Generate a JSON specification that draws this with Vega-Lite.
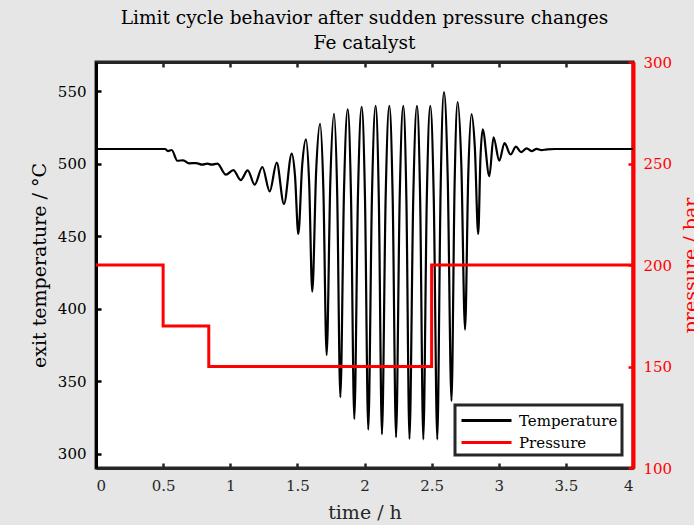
{
  "$schema": "https://vega.github.io/schema/vega-lite/v6.json",
  "width": 537,
  "height": 406,
  "autosize": {"type": "none"},
  "padding": {"left": 96, "top": 62, "right": 61, "bottom": 57},
  "background": "#e6e6e6",
  "config": {
    "font": "DejaVu Serif",
    "view": {"fill": "white", "stroke": "#262626", "strokeWidth": 3},
    "axis": {
      "grid": false,
      "tickSize": -5,
      "tickWidth": 2.5,
      "domainWidth": 3,
      "labelFontSize": 15,
      "titleFontSize": 19,
      "titleFontWeight": "normal",
      "labelPadding": 15,
      "labelFont": "DejaVu Serif",
      "titleFont": "DejaVu Serif"
    }
  },
  "title": {
    "text": ["Limit cycle behavior after sudden pressure changes", "Fe catalyst"],
    "fontSize": 18.5,
    "fontWeight": "normal",
    "font": "DejaVu Serif",
    "anchor": "middle",
    "color": "black",
    "lineHeight": 25,
    "offset": 3
  },
  "datasets": {
    "temp": [
      {"t": 0, "T": 510}, {"t": 0.514, "T": 510}, {"t": 0.536, "T": 508.6}, {"t": 0.564, "T": 509.3},
      {"t": 0.606, "T": 501.9}, {"t": 0.65, "T": 502.2}, {"t": 0.693, "T": 500.1}, {"t": 0.745, "T": 500.3},
      {"t": 0.792, "T": 499.2}, {"t": 0.829, "T": 499.9}, {"t": 0.862, "T": 499.2}, {"t": 0.904, "T": 499.9},
      {"t": 0.968, "T": 492.3}, {"t": 1.023, "T": 495.5}, {"t": 1.078, "T": 488.6}, {"t": 1.13, "T": 495.3},
      {"t": 1.182, "T": 485.4}, {"t": 1.239, "T": 497.6}, {"t": 1.294, "T": 480.8}, {"t": 1.346, "T": 500.6},
      {"t": 1.4, "T": 472.1}, {"t": 1.458, "T": 506.8}, {"t": 1.4825, "T": 491.3}, {"t": 1.507, "T": 451.4},
      {"t": 1.5355, "T": 498.4}, {"t": 1.564, "T": 516.7}, {"t": 1.5875, "T": 487.3}, {"t": 1.611, "T": 411.6},
      {"t": 1.64, "T": 495.0}, {"t": 1.669, "T": 527.4}, {"t": 1.6935, "T": 482.7}, {"t": 1.718, "T": 367.9},
      {"t": 1.7455, "T": 487.7}, {"t": 1.773, "T": 534.3}, {"t": 1.7965, "T": 479.6}, {"t": 1.82, "T": 338.8},
      {"t": 1.8475, "T": 481.8}, {"t": 1.875, "T": 537.4}, {"t": 1.8995, "T": 477.6}, {"t": 1.924, "T": 323.8},
      {"t": 1.9515, "T": 478.7}, {"t": 1.979, "T": 539.0}, {"t": 2.0035, "T": 476.7}, {"t": 2.028, "T": 316.4},
      {"t": 2.0555, "T": 477.2}, {"t": 2.083, "T": 539.7}, {"t": 2.1065, "T": 476.3}, {"t": 2.13, "T": 313.2},
      {"t": 2.1575, "T": 476.3}, {"t": 2.185, "T": 539.7}, {"t": 2.21, "T": 475.7}, {"t": 2.235, "T": 311.2},
      {"t": 2.262, "T": 475.7}, {"t": 2.289, "T": 539.7}, {"t": 2.312, "T": 475.4}, {"t": 2.335, "T": 310.0},
      {"t": 2.363, "T": 475.4}, {"t": 2.391, "T": 539.7}, {"t": 2.4145, "T": 475.4}, {"t": 2.438, "T": 309.8},
      {"t": 2.464, "T": 475.4}, {"t": 2.49, "T": 539.7}, {"t": 2.516, "T": 475.4}, {"t": 2.542, "T": 309.8},
      {"t": 2.567, "T": 482.3}, {"t": 2.592, "T": 549.3}, {"t": 2.62, "T": 489.6}, {"t": 2.648, "T": 336.2},
      {"t": 2.671, "T": 484.7}, {"t": 2.694, "T": 542.4}, {"t": 2.7215, "T": 498.4}, {"t": 2.749, "T": 385.4},
      {"t": 2.773, "T": 492.5}, {"t": 2.797, "T": 534.1}, {"t": 2.822, "T": 510.9}, {"t": 2.847, "T": 451.4},
      {"t": 2.8635, "T": 503.4}, {"t": 2.88, "T": 523.6}, {"t": 2.93, "T": 491.2}, {"t": 2.961, "T": 518.1},
      {"t": 3.004, "T": 501.9}, {"t": 3.043, "T": 514.1}, {"t": 3.088, "T": 506.2}, {"t": 3.128, "T": 511.6},
      {"t": 3.166, "T": 507.9}, {"t": 3.208, "T": 510.5}, {"t": 3.244, "T": 508.6}, {"t": 3.283, "T": 510.1},
      {"t": 3.318, "T": 509.2}, {"t": 3.36, "T": 509.8}, {"t": 3.42, "T": 510}, {"t": 4, "T": 510}
    ],
    "press": [
      {"t": 0, "P": 200}, {"t": 0.5, "P": 200}, {"t": 0.5, "P": 170}, {"t": 0.84, "P": 170},
      {"t": 0.84, "P": 150}, {"t": 2.5, "P": 150}, {"t": 2.5, "P": 200}, {"t": 4, "P": 200}
    ]
  },
  "layer": [
    {
      "data": {"name": "temp"},
      "mark": {"type": "line", "interpolate": "monotone", "strokeWidth": 2.2},
      "encoding": {
        "x": {
          "field": "t", "type": "quantitative",
          "scale": {"domain": [0, 4], "nice": false},
          "axis": {
            "orient": "bottom", "title": "time / h",
            "values": [0, 0.5, 1, 1.5, 2, 2.5, 3, 3.5, 4],
            "labelExpr": "'' + datum.value",
            "domainColor": "#262626", "tickColor": "#262626", "labelColor": "#262626", "titleColor": "#262626",
            "titleX": 268.5, "titleY": 35, "titleBaseline": "top", "titleAnchor": "middle"
          }
        },
        "y": {
          "field": "T", "type": "quantitative",
          "scale": {"domain": [290, 570], "nice": false, "zero": false},
          "axis": {
            "orient": "left", "title": "exit temperature / °C",
            "values": [300, 350, 400, 450, 500, 550],
            "domainColor": "black", "tickColor": "black", "labelColor": "black", "titleColor": "black",
            "titleAngle": 270, "titleX": -47, "titleY": 203, "titleBaseline": "bottom", "titleAlign": "center"
          }
        },
        "color": {
          "datum": "Temperature", "type": "nominal",
          "scale": {"domain": ["Temperature", "Pressure"], "range": ["black", "red"]},
          "legend": {
            "title": null, "orient": "none", "legendX": 359, "legendY": 343,
            "symbolType": "M-2.5,0H2.5", "symbolSize": 400, "symbolStrokeWidth": 3,
            "symbolOffset": 16,
            "labelFontSize": 15, "labelFont": "DejaVu Serif", "labelColor": "black", "labelOffset": 21,
            "strokeColor": "#262626", "fillColor": "white",
            "padding": 4, "rowPadding": 2,
            "encode": {"legend": {"update": {"strokeWidth": {"value": 3}}}}
          }
        }
      }
    },
    {
      "data": {"name": "press"},
      "mark": {"type": "line", "strokeWidth": 3},
      "encoding": {
        "x": {
          "field": "t", "type": "quantitative",
          "axis": {
            "orient": "top", "title": null, "labels": false,
            "values": [0, 0.5, 1, 1.5, 2, 2.5, 3, 3.5, 4],
            "domainColor": "#262626", "tickColor": "#262626"
          }
        },
        "y": {
          "field": "P", "type": "quantitative",
          "scale": {"domain": [100, 300], "nice": false, "zero": false},
          "axis": {
            "orient": "right", "title": "pressure / bar",
            "values": [100, 150, 200, 250, 300],
            "domainColor": "red", "domainWidth": 4, "tickColor": "red", "labelColor": "red", "titleColor": "red",
            "titleAngle": 270, "titleX": 48, "titleY": 203, "titleBaseline": "top", "titleAlign": "center"
          }
        },
        "color": {"datum": "Pressure", "type": "nominal"}
      }
    }
  ],
  "resolve": {"scale": {"y": "independent"}, "axis": {"x": "independent"}}
}
